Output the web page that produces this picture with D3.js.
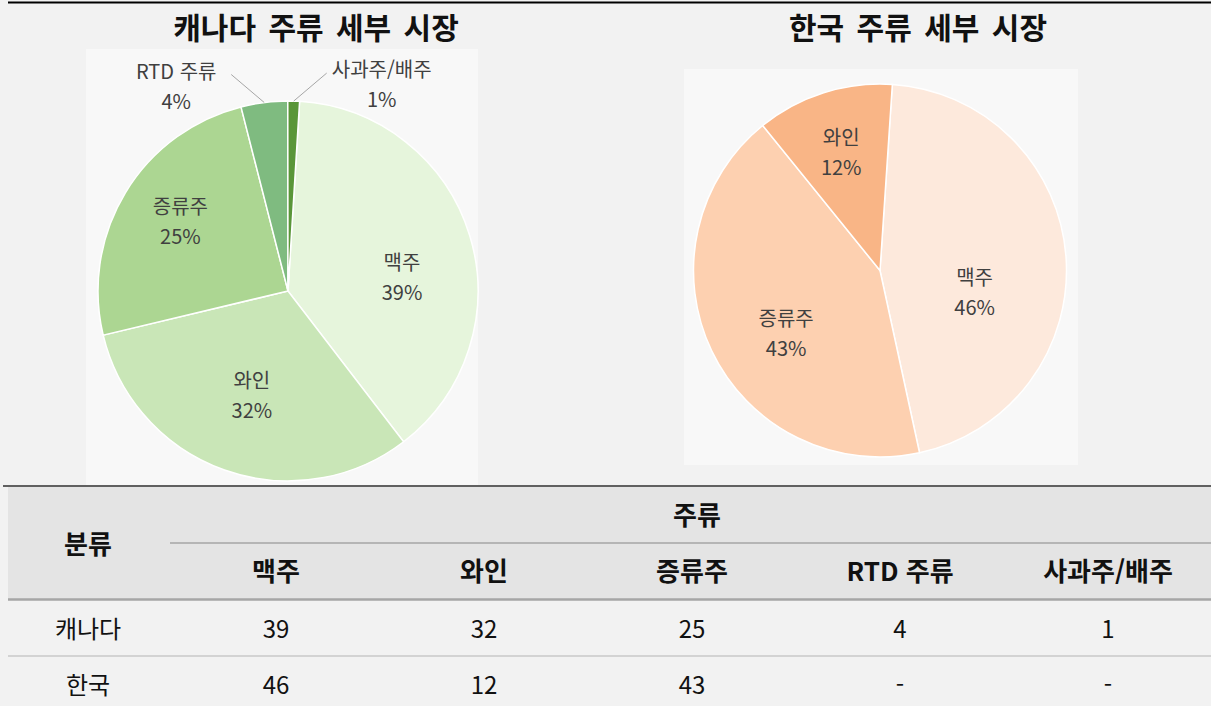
<!DOCTYPE html>
<html lang="ko">
<head>
<meta charset="utf-8" />
<title>캐나다 / 한국 주류 세부 시장</title>
<script src="https://d3js.org/d3.v7.min.js"></script>
<style>
    body { margin: 0; background: #f2f2f2; }
    svg { display: block; font-family: "Noto Sans CJK KR", "Noto Sans", sans-serif; }
</style>
</head>
<body>
<script>
    // data
    var categories = ["맥주", "와인", "증류주", "RTD 주류", "사과주/배주"];
    var canadaValues = [39, 32, 25, 4, 1];
    var koreaValues = [46, 12, 43, null, null];
    var countries = ["캐나다", "한국"];
    var canadaTitle = "캐나다 주류 세부 시장";
    var koreaTitle = "한국 주류 세부 시장";
    // order the slices are drawn clockwise from 12 o'clock
    var canadaOrder = ["맥주", "와인", "증류주", "RTD 주류", "사과주/배주"];
    var koreaOrder = ["맥주", "증류주", "와인"];

    var w = 1211, h = 706;

    var svg = d3.select("body").append("svg")
        .attr("width", w)
        .attr("height", h);

    // top rule
    svg.append("line")
        .attr("x1", 8).attr("x2", w)
        .attr("y1", 2.5).attr("y2", 2.5)
        .attr("stroke", "#000").attr("stroke-width", 2);

    function drawPie(opt) {
        var g = svg.append("g");

        g.append("rect")
            .attr("x", opt.panel[0]).attr("y", opt.panel[1])
            .attr("width", opt.panel[2]).attr("height", opt.panel[3])
            .attr("fill", "#f8f8f8");

        g.append("text")
            .attr("x", opt.titleX).attr("y", 39)
            .attr("text-anchor", "middle")
            .attr("font-size", "30px")
            .attr("font-weight", "bold")
            .attr("word-spacing", "4px")
            .attr("fill", "#111")
            .text(opt.title);

        var data = [];
        opt.order.forEach(function(name) {
            var i = categories.indexOf(name);
            if (opt.values[i] != null) data.push({ name: name, value: opt.values[i] });
        });

        var color = d3.scaleOrdinal()
            .domain(opt.order)
            .range(opt.colors);

        var off = opt.startDeg * Math.PI / 180;
        var pie = d3.pie()
            .sort(null)
            .value(function(d) { return d.value; })
            .startAngle(off)
            .endAngle(2 * Math.PI + off);

        var r = opt.r;
        var arc = d3.arc().innerRadius(0).outerRadius(r);
        var labelArc = d3.arc().innerRadius(r * 0.6).outerRadius(r * 0.6);

        var pg = g.append("g")
            .attr("transform", "translate(" + opt.cx + "," + opt.cy + ")");

        var arcs = pie(data);

        pg.selectAll("path")
            .data(arcs)
            .enter()
            .append("path")
            .attr("d", arc)
            .attr("fill", function(d) { return color(d.data.name); })
            .attr("stroke", "#fff")
            .attr("stroke-width", 1.5);

        arcs.forEach(function(d) {
            var mid = (d.startAngle + d.endAngle) / 2;
            var lx, ly;
            if (d.data.value < 5) {
                // small slices: label outside with a leader line
                var px = r * Math.sin(mid), py = -r * Math.cos(mid);
                var s = Math.sin(mid) < 0 ? -1 : 1;
                pg.append("polyline")
                    .attr("points", [[px, py], [px + s * 33, py - 28]].join(" "))
                    .attr("fill", "none")
                    .attr("stroke", "#a6a6a6")
                    .attr("stroke-width", 1);
                lx = px + s * 88;
                ly = py - 17;
            } else {
                // label near the centroid, nudged like the original layout
                var c = labelArc.centroid(d);
                var n = opt.nudge[d.data.name] || [0, 0];
                lx = c[0] + n[0]; ly = c[1] + n[1];
            }
            var t = pg.append("text")
                .attr("text-anchor", "middle")
                .attr("font-size", "20px")
                .attr("fill", "#404040");
            t.append("tspan").attr("x", lx).attr("y", ly - 7).text(d.data.name);
            t.append("tspan").attr("x", lx).attr("y", ly + 23).text(d.data.value + "%");
        });
    }

    drawPie({
        title: canadaTitle, titleX: 316,
        values: canadaValues, order: canadaOrder,
        colors: ["#e6f5dc", "#c9e6b7", "#acd692", "#7fbb80", "#5a9639"],
        panel: [86, 49, 392, 436],
        cx: 288, cy: 291, r: 190, startDeg: 3.5,
        nudge: { "맥주": [5, 19], "와인": [2, -3], "증류주": [-10, -11] }
    });

    drawPie({
        title: koreaTitle, titleX: 918,
        values: koreaValues, order: koreaOrder,
        colors: ["#fde9dc", "#fdd0b0", "#f9b586"],
        panel: [684, 69, 394, 396],
        cx: 880, cy: 270.5, r: 186.5, startDeg: 3.8,
        nudge: { "맥주": [-17, 30], "와인": [-5, -12], "증류주": [7, 14] }
    });

    // table
    var t0 = 486;
    var colX = d3.scalePoint()
        .domain(categories)
        .range([276, 1108]);
    var rowY = d3.scalePoint()
        .domain(countries)
        .range([630, 686]);
    var firstColX = 88;

    var tg = svg.append("g").attr("font-size", "24px").attr("fill", "#111");

    tg.append("rect")
        .attr("x", 8).attr("y", t0)
        .attr("width", w - 8).attr("height", 599 - t0)
        .attr("fill", "#e4e4e4");

    tg.append("line")
        .attr("x1", 3).attr("x2", w).attr("y1", t0).attr("y2", t0)
        .attr("stroke", "#606060").attr("stroke-width", 2);
    tg.append("line")
        .attr("x1", 170).attr("x2", w).attr("y1", 543).attr("y2", 543)
        .attr("stroke", "#a6a6a6").attr("stroke-width", 1.5);
    tg.append("line")
        .attr("x1", 8).attr("x2", w).attr("y1", 599.5).attr("y2", 599.5)
        .attr("stroke", "#a6a6a6").attr("stroke-width", 2.5);
    tg.append("line")
        .attr("x1", 8).attr("x2", w).attr("y1", 656).attr("y2", 656)
        .attr("stroke", "#c8c8c8").attr("stroke-width", 1.5);

    tg.append("text")
        .attr("x", firstColX).attr("y", 545)
        .attr("text-anchor", "middle").attr("dy", "0.35em")
        .attr("font-size", "26px")
        .attr("font-weight", "bold")
        .text("분류");

    tg.append("text")
        .attr("x", 697).attr("y", 516)
        .attr("text-anchor", "middle").attr("dy", "0.35em")
        .attr("font-size", "26px")
        .attr("font-weight", "bold")
        .text("주류");

    tg.selectAll("text.head")
        .data(categories)
        .enter()
        .append("text")
        .attr("class", "head")
        .attr("x", function(d) { return colX(d); })
        .attr("y", 572)
        .attr("dy", "0.35em")
        .attr("text-anchor", "middle")
        .attr("font-size", "26px")
        .attr("font-weight", "bold")
        .text(function(d) { return d; });

    var rows = [canadaValues, koreaValues];
    countries.forEach(function(country, ri) {
        tg.append("text")
            .attr("x", firstColX).attr("y", rowY(country))
            .attr("dy", "0.35em")
            .attr("text-anchor", "middle")
            .text(country);
        tg.selectAll("text.v" + ri)
            .data(rows[ri])
            .enter()
            .append("text")
            .attr("class", "v" + ri)
            .attr("x", function(d, i) { return colX(categories[i]); })
            .attr("y", rowY(country))
            .attr("dy", "0.35em")
            .attr("text-anchor", "middle")
            .text(function(d) { return d == null ? "-" : d; });
    });
</script>
</body>
</html>
